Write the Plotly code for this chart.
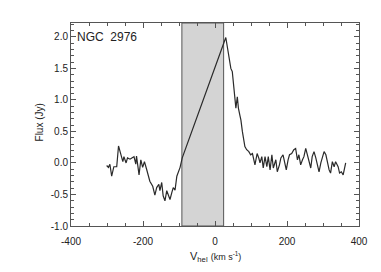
import plotly.graph_objects as go

# Spectrum (velocity in km/s, flux in Jy)
velocity = [-301, -296, -292, -287, -281, -273, -268, -262, -256, -253, -247, -243,
            -236, -231, -225, -220, -218, -211, -206, -201, -196, -190, -181, -173,
            -167, -162, -156, -153, -148, -144, -139, -134, -130, -125, -120, -116,
            -111, -106, -97, -91,
            30, 33, 37, 41, 44, 48, 52, 56, 58, 62, 65, 69, 72, 76, 80, 83,
            88, 94, 99, 104, 111, 117, 122, 125, 130, 134, 139, 144, 148, 153,
            158, 162, 169, 173, 179, 183, 189, 194, 198, 203, 207, 213, 219, 224,
            229, 233, 238, 243, 247, 252, 256, 261, 266, 270, 275, 280, 285, 289,
            294, 298, 303, 308, 312, 317, 321, 326, 331, 335, 342, 346, 351, 356, 363]
flux = [-0.04, -0.07, -0.02, -0.21, -0.06, -0.06, 0.27, 0.16, 0.02, 0.10, 0.00, 0.08,
        0.06, 0.08, 0.10, -0.02, 0.11, -0.19, 0.05, -0.07, 0.02, -0.10, -0.29, -0.37,
        -0.51, -0.39, -0.34, -0.44, -0.31, -0.52, -0.60, -0.44, -0.51, -0.58, -0.47, -0.39,
        -0.43, -0.21, -0.07, 0.08,
        1.99, 1.87, 1.71, 1.57, 1.50, 1.45, 1.24, 1.00, 0.87, 1.05, 0.87, 0.76, 0.68, 0.50,
        0.37, 0.26, 0.21, 0.18, 0.13, 0.15, -0.03, 0.15, 0.07, 0.00, 0.10, -0.08,
        0.10, -0.06, 0.10, -0.11, 0.13, -0.08, 0.05, -0.14, -0.03, 0.08, 0.13, 0.00,
        -0.11, 0.05, 0.13, 0.15, 0.21, 0.23, 0.05, 0.13, -0.03, 0.05, 0.10, 0.23,
        0.13, 0.00, -0.08, 0.10, 0.18, 0.08, -0.03, -0.14, 0.00, 0.10, 0.18, 0.13,
        0.02, -0.11, -0.16, 0.02, -0.06, 0.02, -0.06, -0.16, -0.14, -0.19, 0.00]

# Masked (shaded) velocity interval
mask_lo = -92
mask_hi = 24

x_range = [-400, 400]
y_range = [-1.0, 2.22]
x_ticks = [-400, -200, 0, 200, 400]
x_ticklabels = ["-400", "-200", "0", "200", "400"]
y_ticks = [-1.0, -0.5, 0.0, 0.5, 1.0, 1.5, 2.0]
y_ticklabels = ["-1.0", "-0.5", "0.0", "0.5", "1.0", "1.5", "2.0"]

font_family = "Liberation Sans, Arial, Helvetica, sans-serif"
axis_color = "#555555"
text_color = "#222222"

fig = go.Figure()
fig.add_shape(type="rect", xref="x", yref="paper", x0=mask_lo, x1=mask_hi, y0=0, y1=1,
              fillcolor="#d4d4d4", line=dict(color="#555555", width=1), layer="below")
fig.add_trace(go.Scatter(x=velocity, y=flux, mode="lines",
                         line=dict(color="#2a2a2a", width=1.2), showlegend=False,
                         hoverinfo="skip"))

fig.add_annotation(text="NGC  2976", xref="paper", yref="paper", x=0.015, y=0.93,
                   xanchor="left", yanchor="middle", showarrow=False,
                   font=dict(family=font_family, size=12, color=text_color))

# Axis titles as annotations for exact placement
fig.add_annotation(text="V<sub>hel</sub> <span style='font-size:9px'>(km s<sup>-1</sup>)</span>",
                   xref="paper", yref="paper", x=0.5, y=0, yshift=-31,
                   xanchor="center", yanchor="middle", showarrow=False,
                   font=dict(family=font_family, size=11, color=text_color))
fig.add_annotation(text="Flux (Jy)", xref="paper", yref="paper", x=0, xshift=-32,
                   y=0.51, xanchor="center", yanchor="middle", textangle=-90,
                   showarrow=False,
                   font=dict(family=font_family, size=10, color=text_color))

fig.update_xaxes(range=x_range, tickmode="array", tickvals=x_ticks, ticktext=x_ticklabels,
                 ticks="inside", ticklen=5, tickcolor=axis_color, tickwidth=1,
                 showline=True, linecolor=axis_color, linewidth=1, mirror="allticks",
                 showgrid=False, zeroline=False, automargin=False,
                 minor=dict(ticks="inside", dtick=50, ticklen=3, tickcolor=axis_color,
                            showgrid=False),
                 tickfont=dict(family=font_family, size=10, color=text_color),
                 ticklabelstandoff=6)
fig.update_yaxes(range=y_range, tickmode="array", tickvals=y_ticks, ticktext=y_ticklabels,
                 ticks="inside", ticklen=5, tickcolor=axis_color, tickwidth=1,
                 showline=True, linecolor=axis_color, linewidth=1, mirror="allticks",
                 showgrid=False, zeroline=False, automargin=False,
                 minor=dict(ticks="inside", dtick=0.1, ticklen=3, tickcolor=axis_color,
                            showgrid=False),
                 tickfont=dict(family=font_family, size=10, color=text_color))

# The page body adds an 8 px offset, so the figure is 8 px smaller and margins shifted
fig.update_layout(width=373, height=264, margin=dict(l=63, r=22, t=15, b=46),
                  paper_bgcolor="white", plot_bgcolor="white")

fig.write_html("out.html")
